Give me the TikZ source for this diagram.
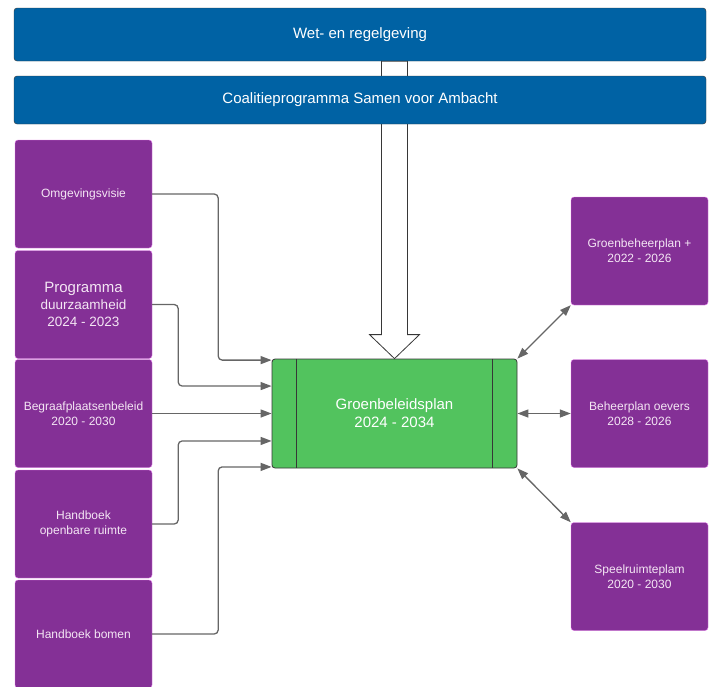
\documentclass[tikz,border=0pt]{standalone}
\usepackage{fontspec}
\setmainfont{Liberation Sans}
\usepackage{xcolor}
\usepackage{tikz}
\usetikzlibrary{arrows.meta,calc}

\definecolor{wetblue}{RGB}{0,98,164}
\definecolor{purp}{RGB}{132,48,150}
\definecolor{purpline}{RGB}{228,120,235}
\definecolor{purptext}{RGB}{244,230,244}
\definecolor{grn}{RGB}{82,195,94}
\definecolor{edge}{RGB}{55,55,55}
\definecolor{conngray}{RGB}{102,102,102}

\begin{document}
\begin{tikzpicture}[x=1pt, y=-1pt,
  bluebox/.style={rectangle, draw=edge, fill=wetblue, rounded corners=3pt, minimum width=692, minimum height=53, text=white, font=\fontsize{15}{18}\selectfont},
  docbox/.style={rectangle, draw=purpline, fill=purp, rounded corners=3pt, minimum width=137, minimum height=108, text=purptext, align=center, font=\fontsize{12}{15}\selectfont},
  conn/.style={draw=conngray, line width=1.3pt, rounded corners=4pt, -{Triangle[length=11pt,width=8pt]}},
  dconn/.style={draw=conngray, line width=1.3pt, {Triangle[length=11pt,width=8pt]}-{Triangle[length=11pt,width=8pt]}},
  bigarr/.style={draw=edge, thick, fill=white, line join=miter}]
\useasboundingbox (0,0) rectangle (714,686);

\node(grn)[rectangle, draw=edge, thick, fill=grn, rounded corners=3pt, minimum width=245, minimum height=109, text=white, align=center, font=\fontsize{15}{18}\selectfont] at (394.5,413.5) {Groenbeleidsplan\\2024 - 2034};
\draw[edge, thick] ([xshift=25]grn.north west) -- ([xshift=25]grn.south west);
\draw[edge, thick] ([xshift=-25]grn.north east) -- ([xshift=-25]grn.south east);

\node(wet)[bluebox] at (360,34.5) {Wet- en regelgeving};

% brede pijl naar het groenbeleidsplan
\coordinate (ta) at (wet.south -| grn.north);
\draw[bigarr] ([xshift=-13]ta) -- ([xshift=-13,yshift=24]grn.north) -- ([xshift=-25,yshift=24]grn.north) -- (grn.north)
  -- ([xshift=25,yshift=24]grn.north) -- ([xshift=13,yshift=24]grn.north) -- ([xshift=13]ta) -- cycle;

\node(coal)[bluebox, minimum height=48] at (360,100) {Coalitieprogramma Samen voor Ambacht};

\node(omg)[docbox] at (83.5,194) {Omgevingsvisie};
\node(prog)[docbox, font=\fontsize{13.5}{17}\selectfont] at (83.5,304.5) {{\fontsize{15}{17}\selectfont Programma}\\duurzaamheid\\2024 - 2023};
\node(begr)[docbox] at (83.5,413.5) {Begraafplaatsenbeleid\\2020 - 2030};
\node(hor)[docbox] at (83.5,524) {Handboek\\openbare ruimte};
\node(hbo)[docbox] at (83.5,634) {Handboek bomen};

\node(gbp)[docbox] at (639.5,251) {Groenbeheerplan +\\2022 - 2026};
\node(bpo)[docbox] at (639.5,413.5) {Beheerplan oevers\\2028 - 2026};
\node(spr)[docbox] at (639.5,576.5) {Speelruimteplam\\2020 - 2030};

\coordinate (g1) at ([yshift=-1.5]grn.north west);
\coordinate (g2) at ($(grn.north west)!0.25!(grn.south west)$);
\coordinate (g3) at (grn.west);
\coordinate (g4) at ($(grn.north west)!0.75!(grn.south west)$);
\coordinate (g5) at ([yshift=1.5]grn.south west);

\draw[conn] (omg.east) -- ++(66,0) |- (g1);
\draw[conn] (prog.east) -- ++(26,0) |- (g2);
\draw[conn] (begr.east) -- (g3);
\draw[conn] (hor.east) -- ++(26,0) |- (g4);
\draw[conn] (hbo.east) -- ++(66,0) |- (g5);

\draw[dconn] (grn.north east) -- (gbp.south west);
\draw[dconn] (grn.east) -- (bpo.west);
\draw[dconn] (grn.south east) -- (spr.north west);
\end{tikzpicture}
\end{document}
